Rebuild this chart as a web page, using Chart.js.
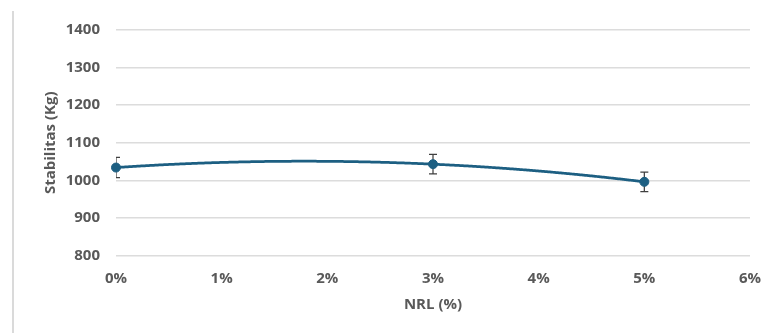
<!DOCTYPE html>
<html>
<head>
<meta charset="utf-8">
<script src="https://cdn.jsdelivr.net/npm/chart.js@4/dist/chart.umd.min.js"></script>
<style>
  html, body { margin: 0; padding: 0; background: #ffffff; }
  #wrap { position: relative; width: 770px; height: 333px; }
  #frame { position: absolute; left: 12px; top: 11px; width: 0; height: 322px; border-left: 2px solid #dadada; }
  canvas { position: absolute; left: 0; top: 0; }
</style>
</head>
<body>
<div id="wrap">
  <div id="frame"></div>
  <canvas id="chart" width="770" height="333"></canvas>
</div>
<script>
// NRL content (%) and measured Marshall stability (kg) with standard deviation
const nrlPercent   = [0, 3, 5];
const stabilitasKg = [1034, 1043, 996];
const stdevKg      = [27, 26, 26];

const axisX = { min: 0, max: 6, step: 1 };
const axisY = { min: 800, max: 1400, step: 100 };

const textGray = '#595959';
const seriesBlue = '#1d5f82';
const FONT = '"Open Sans", "Liberation Sans", sans-serif';

// Least-squares polynomial (order 2) trendline through the measured points
function fitQuadratic(xs, ys) {
  const n = xs.length;
  let s = [0, 0, 0, 0, 0], t = [0, 0, 0];
  for (let i = 0; i < n; i++) {
    let p = 1;
    for (let k = 0; k < 5; k++) { s[k] += p; p *= xs[i]; }
    t[0] += ys[i]; t[1] += ys[i] * xs[i]; t[2] += ys[i] * xs[i] * xs[i];
  }
  const A = [[s[0], s[1], s[2], t[0]], [s[1], s[2], s[3], t[1]], [s[2], s[3], s[4], t[2]]];
  for (let c = 0; c < 3; c++) {
    for (let r = c + 1; r < 3; r++) {
      const f = A[r][c] / A[c][c];
      for (let k = c; k < 4; k++) A[r][k] -= f * A[c][k];
    }
  }
  const coef = [0, 0, 0];
  for (let r = 2; r >= 0; r--) {
    let v = A[r][3];
    for (let k = r + 1; k < 3; k++) v -= A[r][k] * coef[k];
    coef[r] = v / A[r][r];
  }
  return x => coef[0] + coef[1] * x + coef[2] * x * x;
}

const trendFn = fitQuadratic(nrlPercent, stabilitasKg);

const trendAndErrorBars = {
  id: 'trendAndErrorBars',
  beforeDatasetsDraw(chart) {
    const { ctx, chartArea, scales: { x, y } } = chart;
    ctx.save();
    ctx.beginPath();
    ctx.rect(chartArea.left, chartArea.top, chartArea.right - chartArea.left, chartArea.bottom - chartArea.top);
    ctx.clip();

    // trendline across the measured range
    const x0 = Math.min(...nrlPercent), x1 = Math.max(...nrlPercent);
    const p0 = x.getPixelForValue(x0), p1 = x.getPixelForValue(x1);
    ctx.beginPath();
    for (let px = p0; px <= p1 + 0.01; px += 1) {
      const v = x.getValueForPixel(Math.min(px, p1));
      const py = y.getPixelForValue(trendFn(v));
      if (px === p0) ctx.moveTo(px, py); else ctx.lineTo(px, py);
    }
    ctx.strokeStyle = seriesBlue;
    ctx.lineWidth = 2.75;
    ctx.lineCap = 'round';
    ctx.stroke();

    // standard deviation error bars
    ctx.strokeStyle = '#404040';
    ctx.lineWidth = 1.25;
    ctx.lineCap = 'butt';
    const cap = 4;
    nrlPercent.forEach((xv, i) => {
      const px = x.getPixelForValue(xv);
      const hi = y.getPixelForValue(stabilitasKg[i] + stdevKg[i]);
      const lo = y.getPixelForValue(stabilitasKg[i] - stdevKg[i]);
      ctx.beginPath();
      ctx.moveTo(px, hi); ctx.lineTo(px, lo);
      ctx.moveTo(px - cap, hi); ctx.lineTo(px + cap, hi);
      ctx.moveTo(px - cap, lo); ctx.lineTo(px + cap, lo);
      ctx.stroke();
    });
    ctx.restore();
  }
};

new Chart(document.getElementById('chart'), {
  type: 'scatter',
  data: {
    datasets: [{
      label: 'Stabilitas',
      data: nrlPercent.map((v, i) => ({ x: v, y: stabilitasKg[i] })),
      showLine: false,
      pointRadius: 4.5,
      pointHoverRadius: 4.5,
      pointBackgroundColor: seriesBlue,
      pointBorderColor: seriesBlue,
      pointBorderWidth: 1,
      clip: false
    }]
  },
  options: {
    responsive: false,
    animation: false,
    events: [],
    layout: { padding: { left: 14, top: 30, right: 20, bottom: 0 } },
    plugins: { legend: { display: false }, tooltip: { enabled: false } },
    scales: {
      x: {
        type: 'linear',
        min: axisX.min, max: axisX.max,
        afterFit: s => { s.height = 77.5; },
        grid: { display: false },
        border: { display: false },
        ticks: {
          stepSize: axisX.step,
          padding: 6,
          color: textGray,
          font: { family: FONT, size: 15, weight: 'bold' },
          callback: v => v + '%'
        },
        title: {
          display: true,
          text: 'NRL (%)',
          color: textGray,
          font: { family: FONT, size: 15, weight: 'bold' },
          padding: { top: 0, bottom: 19 }
        }
      },
      y: {
        min: axisY.min, max: axisY.max,
        afterFit: s => { s.width = 102; },
        grid: { color: '#dcdcdc', lineWidth: 1.5, drawTicks: false },
        border: { display: false },
        ticks: {
          stepSize: axisY.step,
          padding: 16,
          color: textGray,
          font: { family: FONT, size: 15, weight: 'bold' },
          callback: v => String(v)
        },
        title: {
          display: true,
          text: 'Stabilitas (Kg)',
          color: textGray,
          font: { family: FONT, size: 15, weight: 'bold' },
          padding: { top: 28, bottom: 0 }
        }
      }
    }
  },
  plugins: [trendAndErrorBars]
});
</script>
</body>
</html>
